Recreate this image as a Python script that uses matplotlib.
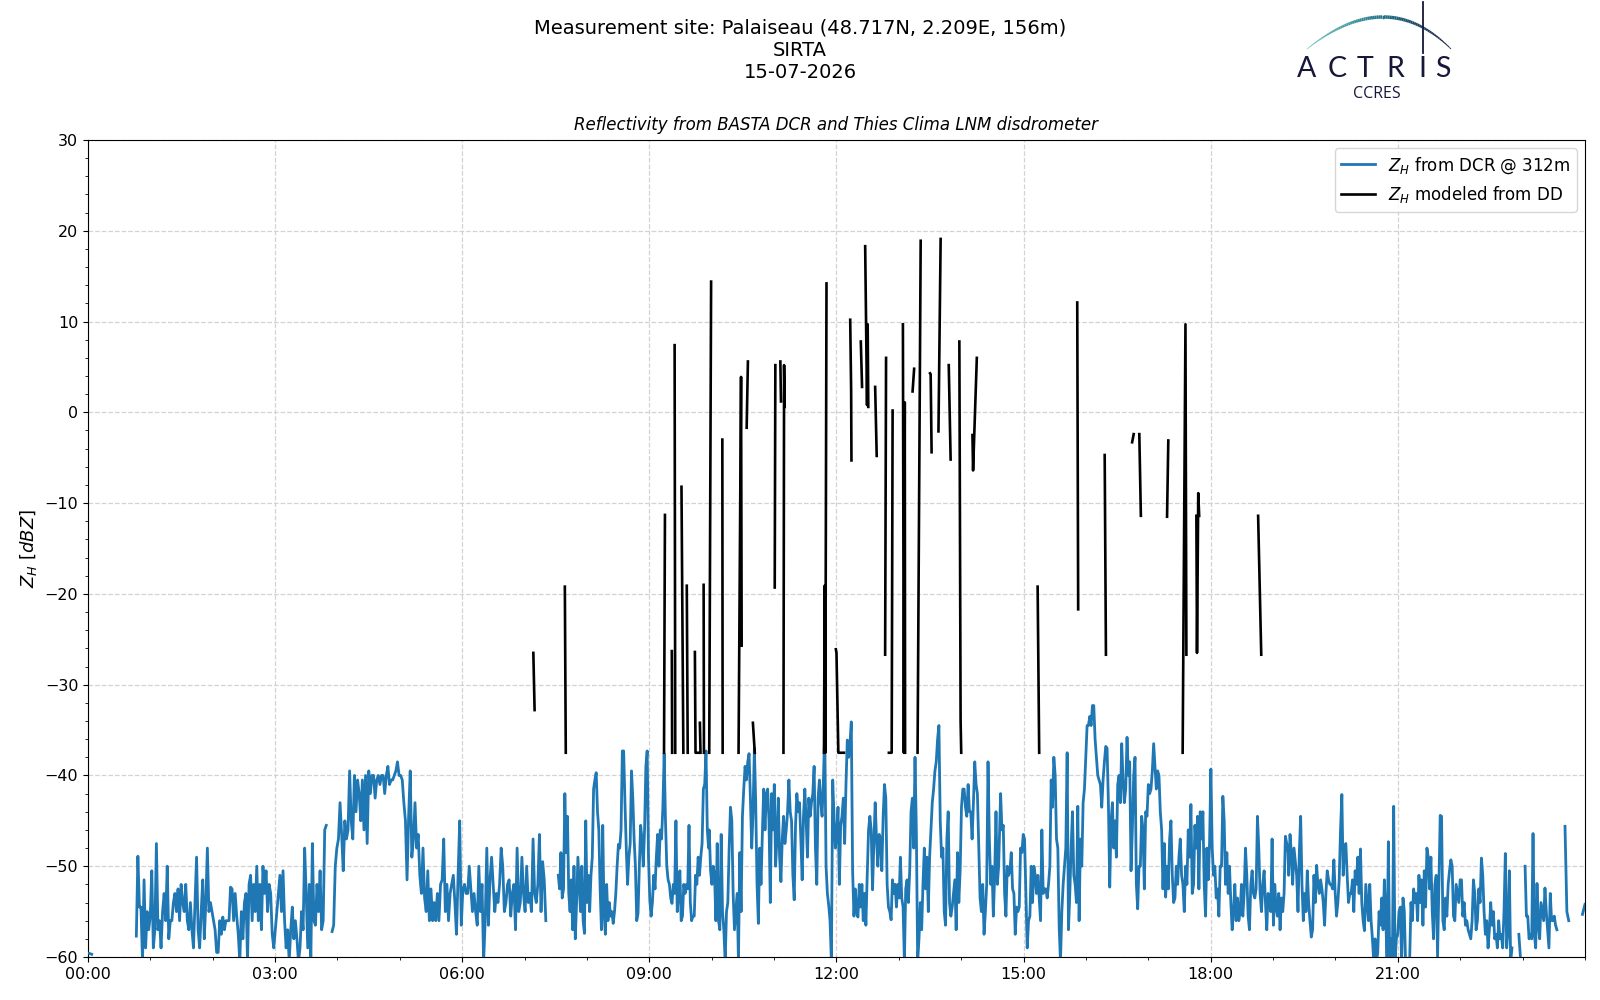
import numpy as np
import matplotlib.pyplot as plt
from matplotlib.collections import LineCollection
from matplotlib.ticker import MultipleLocator, FuncFormatter
from matplotlib.colors import to_rgb

# ---- BASTA DCR reflectivity @ 312 m (pieces: start hour, end hour, values) ----
dcr_start = [0.02, 0.775, 3.913, 7.54, 9.96, 14.61, 19.25, 22.94, 23.04, 23.68, 23.96]
dcr_end = [0.06, 3.82, 7.34, 9.95, 14.60, 19.24, 22.83, 22.97, 23.55, 23.74, 24.0]

dcr_zh_a = [-59.6, -59.7]
dcr_zh_b = [-57.7, -48.9, -54.5, -54.5, -60.5, -51.5, -59, -55, -57, -55.5, -50.5, -59, -57, -47.5,
            -57, -56, -59, -55, -53, -56, -50, -58, -56, -56, -54, -53, -55, -52.5, -56, -52, -54,
            -55, -52, -56, -57, -54, -57, -59, -54, -49, -57, -59, -55, -51.5, -58, -54, -48, -55,
            -54, -55, -56, -57, -59.5, -59.5, -56, -57.5, -55.6, -57, -56, -56, -56, -52.3, -52.5,
            -56, -53, -55.5, -57.5, -60.5, -55, -58, -54, -53, -60.5, -52, -51, -56, -52, -55, -50,
            -56, -52, -57, -50, -53, -50.5, -55, -52, -53, -57.5, -59, -57, -55, -53, -51, -55,
            -50.5, -56, -59, -57, -60.5, -57, -54.5, -58, -56, -58, -60.5, -59, -55, -57, -48, -53,
            -59, -52, -60.5, -47.5, -56, -56.5, -52, -55, -50.5, -57, -56, -46, -45.5]
dcr_zh_c = [-57.2, -56.5, -50, -48, -47, -43, -46.5, -50.5, -45, -47, -46, -39.5, -45, -47, -40,
            -44, -40.5, -42, -45, -40.5, -46, -40, -47.5, -39.5, -42, -40, -40, -42.5, -40.5, -40,
            -41, -40, -40, -42, -40, -39, -41, -40.5, -40.5, -40, -39.5, -38.5, -40, -40, -40.5,
            -43, -45, -51.5, -44.5, -39.5, -49, -47, -43, -48, -46.5, -51, -53, -48, -53.5, -55,
            -50.5, -56, -52.5, -56, -54, -56, -53, -56, -52, -51.5, -47, -55, -52, -56, -53, -52,
            -51, -54, -57.5, -51, -45, -56.5, -52.5, -52, -53, -53, -50, -52.5, -55, -53, -55,
            -56.5, -50, -55, -52, -60.5, -56, -48, -56.5, -51.5, -49, -52, -55, -53, -54, -52, -48,
            -50, -55, -54, -52, -51.5, -55.5, -53, -52, -57, -48, -55, -54, -49, -53, -55, -50,
            -54, -53, -55, -47, -53, -54, -52, -46.5, -55, -49.5, -51.5, -56]
dcr_zh_d = [-51, -52.5, -48.5, -53.5, -52.5, -42, -48.5, -44.5, -53, -55, -51.5, -57, -50, -58,
            -54, -49, -52, -55, -50, -56, -57.4, -45, -54, -51, -55, -51, -49, -41.5, -40.5,
            -39.7, -44, -46, -52.5, -57, -45.5, -55, -57.5, -52, -56, -54, -55.5, -55, -56.3, -55,
            -53, -50, -47.6, -48, -46, -37.3, -37.3, -43, -48, -52, -49, -47.5, -39.5, -42.5, -47,
            -50, -56, -55.2, -50, -45.5, -47, -50, -46, -39, -37.3, -49, -53.7, -55.5, -54, -51,
            -52.5, -49, -46.5, -50, -46, -47, -43.5, -37.6, -45, -50, -51.5, -52, -53.5, -54.1,
            -52, -53, -45, -55, -53, -50.5, -56, -55.5, -52, -53, -52, -52.5, -45.5, -54, -56,
            -55.5, -55.5, -51, -52, -49, -51, -49, -47.5, -41.5, -41, -37.3, -46, -48]
dcr_zh_e = [-46, -50.5, -52, -50, -51, -56, -47.5, -56, -57, -46.5, -55, -57, -60.5, -55, -54, -48,
            -43.5, -45, -53, -57, -55, -53, -60.5, -48.5, -55, -44.5, -41.5, -39, -40.5, -38.5,
            -37.6, -42.5, -48, -44, -37, -43, -52, -56.3, -48, -52, -46.5, -41.5, -46, -42, -41.5,
            -45, -54, -42, -46, -41, -50, -47, -42.5, -49, -51.7, -47, -44.5, -47.5, -46, -44,
            -40.5, -44, -45, -51, -53.7, -45.5, -42, -44, -43, -47, -51.5, -44.5, -41.5, -45, -49,
            -42.5, -44.5, -43, -42, -39, -48, -52, -42.5, -40.5, -43, -44.5, -40.5, -35.2, -50,
            -53, -54.3, -56, -60.5, -40.5, -44.5, -48, -46.5, -43.5, -52, -45.5, -44.5, -42.5,
            -47.5, -41, -36.1, -38, -36.5, -34.1, -50.5, -55.5, -52.5, -55, -55.6, -52, -54.5,
            -52, -56, -53, -56.5, -51, -46, -44.5, -46, -52.6, -47.5, -43, -47, -50, -46.5, -47,
            -50.5, -44.5, -41, -42.5, -52, -54.5, -55, -55.9, -51.5, -53, -52, -54.5, -52, -53.5,
            -49, -53.5, -54.5, -60.5, -52.5, -51.5, -54, -50.5, -44, -42.5, -48, -38, -46, -60.5,
            -58, -54, -57, -52, -48, -52.5, -49, -55, -49, -46.1, -43, -41.5, -39.5, -38.5, -36,
            -34.5, -45, -49, -48, -55, -56.5, -47, -44, -54, -55.5, -54.5, -53, -51.5, -57, -48.5,
            -54, -50.5, -43.5, -41.5, -41.5, -43.5, -44.5, -41, -44, -44, -47, -43, -38.5, -41,
            -42, -48, -53.5, -55, -52, -57.5, -55, -52, -38.5, -47, -52, -50, -55.5, -51, -44,
            -52, -50]
dcr_zh_f = [-47.5, -42, -46, -45.5, -53, -55.5, -50, -51, -50.5, -48.5, -52.5, -53, -57.5, -54.5,
            -55, -54.5, -48, -48.5, -46.5, -47, -53, -59, -56, -55.5, -50, -54, -50, -51, -53, -51,
            -53.5, -56, -46, -53, -52.5, -52.5, -53.5, -52, -50, -40.5, -43.5, -38, -40, -47, -48,
            -56.7, -60.5, -55, -52, -50, -48, -37.5, -57, -53, -48, -44, -51, -52, -54, -43.4, -56,
            -47, -50, -43, -41.5, -38, -34.5, -34.5, -33.5, -34.5, -32.3, -32.3, -36, -38, -40,
            -40.5, -41, -43.5, -40.5, -38.5, -36.8, -37, -43, -52.3, -45, -43, -48, -45, -49, -41,
            -40, -43, -36.5, -40.5, -43, -41.5, -35.8, -40, -38.5, -50.5, -46, -40, -38, -52,
            -54.7, -50, -50, -44.5, -46, -52.5, -44, -44.5, -41, -42, -41.5, -39.5, -36.5, -39,
            -41.5, -39.5, -40, -44, -46, -52.5, -47.5, -53.4, -50, -52.5, -47, -45, -51, -54,
            -53.5, -50, -52, -49, -47, -51, -52, -55, -50, -52, -46, -49, -43.2, -53, -52, -45.5,
            -48, -44.5, -52.5, -44, -47, -44, -52, -55.5, -48, -51.5, -47.5, -39.3, -48, -51, -50,
            -53.5, -52.5, -55.5, -50, -50, -42.3, -45, -52, -48.5, -53, -50, -54, -57, -55, -52,
            -56, -53.5, -56, -55, -52, -55.5, -53, -48, -51, -55.5, -57, -52, -50.5, -53, -53.5,
            -52.5, -44.5, -48, -53, -55, -52, -50.5, -54, -57, -53, -53.5, -55, -47, -56.5, -52,
            -54.5, -55.5, -53, -57, -53.5, -55, -53, -46.7, -47.5, -48.5]
dcr_zh_g = [-51, -46.5, -48.5, -52, -48, -49.5, -51, -55, -48.5, -44.5, -52, -56, -53, -55, -50.5,
            -54, -56, -57.8, -57, -51, -54, -49.9, -52, -53, -51.5, -52.5, -54, -56.5, -53, -50.5,
            -51.5, -52, -52, -52.5, -49.3, -53, -55.5, -54, -51.5, -46, -42.1, -51, -48, -47.5,
            -51, -54, -53, -53, -51.5, -55, -50.5, -52, -49, -53, -48.1, -54, -56, -57.1, -52, -54,
            -56, -52, -56, -58, -60.5, -58, -60.5, -59.5, -55, -56.5, -53.5, -57, -51.5, -55.5,
            -60.5, -47.3, -60.5, -58, -60.5, -43.4, -60.5, -58, -57.5, -55, -54.5, -60.5, -53.5,
            -55, -61, -61, -61, -60.5, -54, -56, -52.5, -54, -53, -56, -51, -54, -51.5, -56.5,
            -50.5, -54.5, -48, -49, -52.5, -49, -55, -58, -52, -51, -60, -52.5, -44.4, -44.5, -56,
            -57, -53.5, -55.5, -52, -50.5, -49.3, -50, -55.5, -56, -52, -53, -54, -51.5, -51.5,
            -55.5, -54, -56.5, -56, -57, -57.5, -58, -56, -51.5, -53, -57, -56, -52.5, -54, -49.1,
            -51, -55, -57.5, -56, -59, -57, -54, -56.5, -55, -58, -57.5, -59, -56, -58, -57.5, -59,
            -55, -48.6, -59, -57, -50.5, -60.5, -59]
dcr_zh_h = [-57.5, -60.5]
dcr_zh_i = [-50, -55.5, -55.5, -58, -57.5, -58, -46.4, -57.5, -59, -51.9, -56.5, -58, -54, -55,
            -56, -52.4, -55, -57, -59, -53, -56, -56, -55.5, -56.5, -57]
dcr_zh_j = [-45.6, -55, -56]
dcr_zh_k = [-55.3, -54.2]
dcr_parts = [dcr_zh_a, dcr_zh_b, dcr_zh_c, dcr_zh_d, dcr_zh_e, dcr_zh_f,
             dcr_zh_g, dcr_zh_h, dcr_zh_i, dcr_zh_j, dcr_zh_k]

# ---- Z modeled from the disdrometer: separate short pieces (hours, dBZ) ----
dd_t = [[7.14, 7.16], [7.645, 7.66], [9.235, 9.25], [9.36, 9.365], [9.405, 9.415],
        [9.515, 9.545], [9.60, 9.615], [9.73, 9.74, 9.78], [9.81, 9.82], [9.87, 9.875],
        [9.96, 9.99], [10.17, 10.175], [10.43, 10.47, 10.48], [10.56, 10.58], [10.66, 10.69],
        [11.01, 11.02], [11.10, 11.11], [11.15, 11.16, 11.17],
        [11.80, 11.81, 11.82, 11.84], [11.99, 12.0, 12.03, 12.12], [12.22, 12.235, 12.24],
        [12.39, 12.41], [12.46, 12.49, 12.50, 12.51], [12.62, 12.645], [12.78, 12.795],
        [12.84, 12.885, 12.90], [13.065, 13.08, 13.095, 13.10], [13.22, 13.245], [13.30, 13.35],
        [13.50, 13.51, 13.525], [13.635, 13.67], [13.80, 13.83], [13.97, 13.99, 14.0],
        [14.18, 14.19, 14.25], [15.225, 15.25], [15.86, 15.875], [16.30, 16.32],
        [16.74, 16.765], [16.855, 16.88], [17.30, 17.32], [17.55, 17.595, 17.61],
        [17.77, 17.78, 17.80, 17.815], [18.76, 18.81]]
dd_zh = [[-26.5, -32.8], [-19.2, -37.5], [-37.5, -11.3], [-26.3, -37.5], [7.4, -37.5],
         [-8.2, -37.5], [-19.1, -37.5], [-26.4, -37.5, -37.5], [-34.2, -37.5], [-19.0, -37.5],
         [-37.5, 14.4], [-3.0, -37.5], [-37.5, 3.9, -25.7], [-1.7, 5.6], [-34.2, -37.5],
         [-19.3, 5.2], [5.6, 1.2], [-37.5, 5.2, 0.6],
         [-37.5, -19.1, -37.5, 14.2], [-26.1, -26.5, -37.5, -37.5], [10.2, 2.4, -5.3],
         [7.8, 2.8], [18.3, 0.8, 9.7, 0.6], [2.8, -4.8], [-26.7, 6.0],
         [-37.5, -37.5, 0.2], [9.7, -37.5, 1.1, -37.5], [2.3, 4.8], [-37.5, 18.9],
         [4.3, 4.2, -4.4], [-2.1, 19.1], [5.2, -5.2], [7.8, -34.0, -37.5],
         [-2.5, -6.4, 6.0], [-19.2, -37.5], [12.1, -21.7], [-4.7, -26.7],
         [-3.3, -2.4], [-2.4, -11.4], [-11.5, -3.1], [-37.5, 9.7, -26.7],
         [-11.4, -26.5, -8.9, -11.4], [-11.4, -26.7]]

hour_ticks = [0, 3, 6, 9, 12, 15, 18, 21]

# join pieces, NaN where there is no data
t_list, z_list = [], []
prev_end = None
for t0, t1, vals in zip(dcr_start, dcr_end, dcr_parts):
    if prev_end is not None and t0 - prev_end > 0.02:
        t_list.append([np.nan])
        z_list.append([np.nan])
    t_list.append(np.linspace(t0, t1, len(vals)))
    z_list.append(vals)
    prev_end = t1
dcr_t = np.concatenate(t_list)
dcr_z = np.concatenate(z_list)

dd_tt, dd_zz = [], []
for tt, zz in zip(dd_t, dd_zh):
    dd_tt += tt + [np.nan]
    dd_zz += zz + [np.nan]

fig = plt.figure(figsize=(16, 10), dpi=100)
ax = fig.add_axes([0.055, 0.043, 0.9356, 0.817])

ax.plot(dcr_t, dcr_z, color='#1f77b4', lw=2.0, label='$Z_H$ from DCR @ 312m', zorder=3)
ax.plot(dd_tt, dd_zz, color='black', lw=1.9, label='$Z_H$ modeled from DD', zorder=3)

ax.set_xlim(0, 24)
ax.set_ylim(-60, 30)
ax.set_xticks(hour_ticks)
ax.xaxis.set_major_formatter(FuncFormatter(lambda v, p: '%02d:00' % int(v)))
ax.xaxis.set_minor_locator(MultipleLocator(1))
ax.yaxis.set_major_locator(MultipleLocator(10))
ax.yaxis.set_minor_locator(MultipleLocator(2))
ax.tick_params(labelsize=11.5)
ax.grid(True, which='major', ls='--', color='#d3d3d3', lw=0.9)
ax.set_axisbelow(True)
ax.set_ylabel('$Z_H$ $[dBZ]$', fontsize=13)
ax.set_title('Reflectivity from BASTA DCR and Thies Clima LNM disdrometer',
             fontsize=12, style='italic', pad=7)
ax.legend(loc='upper right', fontsize=12)

fig.suptitle('Measurement site: Palaiseau (48.717N, 2.209E, 156m)\nSIRTA\n15-07-2026',
             fontsize=14, y=0.981)

# ---- ACTRIS CCRES logo (pixel coordinates of the top-right corner) ----
lax = fig.add_axes([1290 / 1600, 0.9, 180 / 1600, 0.1])
lax.set_xlim(1290, 1470)
lax.set_ylim(100, 0)
lax.axis('off')
s = np.linspace(0, 1, 80)
bx = (1 - s) ** 2 * 1307 + 2 * (1 - s) * s * 1387 + s ** 2 * 1451
by = (1 - s) ** 2 * 49 + 2 * (1 - s) * s * (-15) + s ** 2 * 49
pts = np.column_stack([bx, by]).reshape(-1, 1, 2)
segs = np.concatenate([pts[:-1], pts[1:]], axis=1)
c0, c1, c2 = np.array(to_rgb('#74c6bf')), np.array(to_rgb('#1f6f86')), np.array(to_rgb('#16173a'))
cols = []
for u in s[:-1]:
    if u < 0.5:
        cols.append(c0 + (c1 - c0) * u / 0.5)
    else:
        cols.append(c1 + (c2 - c1) * (u - 0.5) / 0.5)
widths = 0.5 + 2.0 * np.sin(np.pi * s[:-1])
lax.add_collection(LineCollection(segs, colors=cols, linewidths=widths))
lax.plot([1423, 1423], [1.5, 53], color='#16173a', lw=1.3)
for letter, lx in zip('ACTRIS', [1306.7, 1337.3, 1365, 1395, 1422.7, 1443.3]):
    lax.text(lx, 69, letter, fontsize=20.5, family='Lato', color='#16173a',
             ha='center', va='center')
lax.text(1376.7, 94, 'CCRES', fontsize=11.5, family='Open Sans', color='#16173a',
         ha='center', va='center')

fig.savefig('out.png', dpi=100)
